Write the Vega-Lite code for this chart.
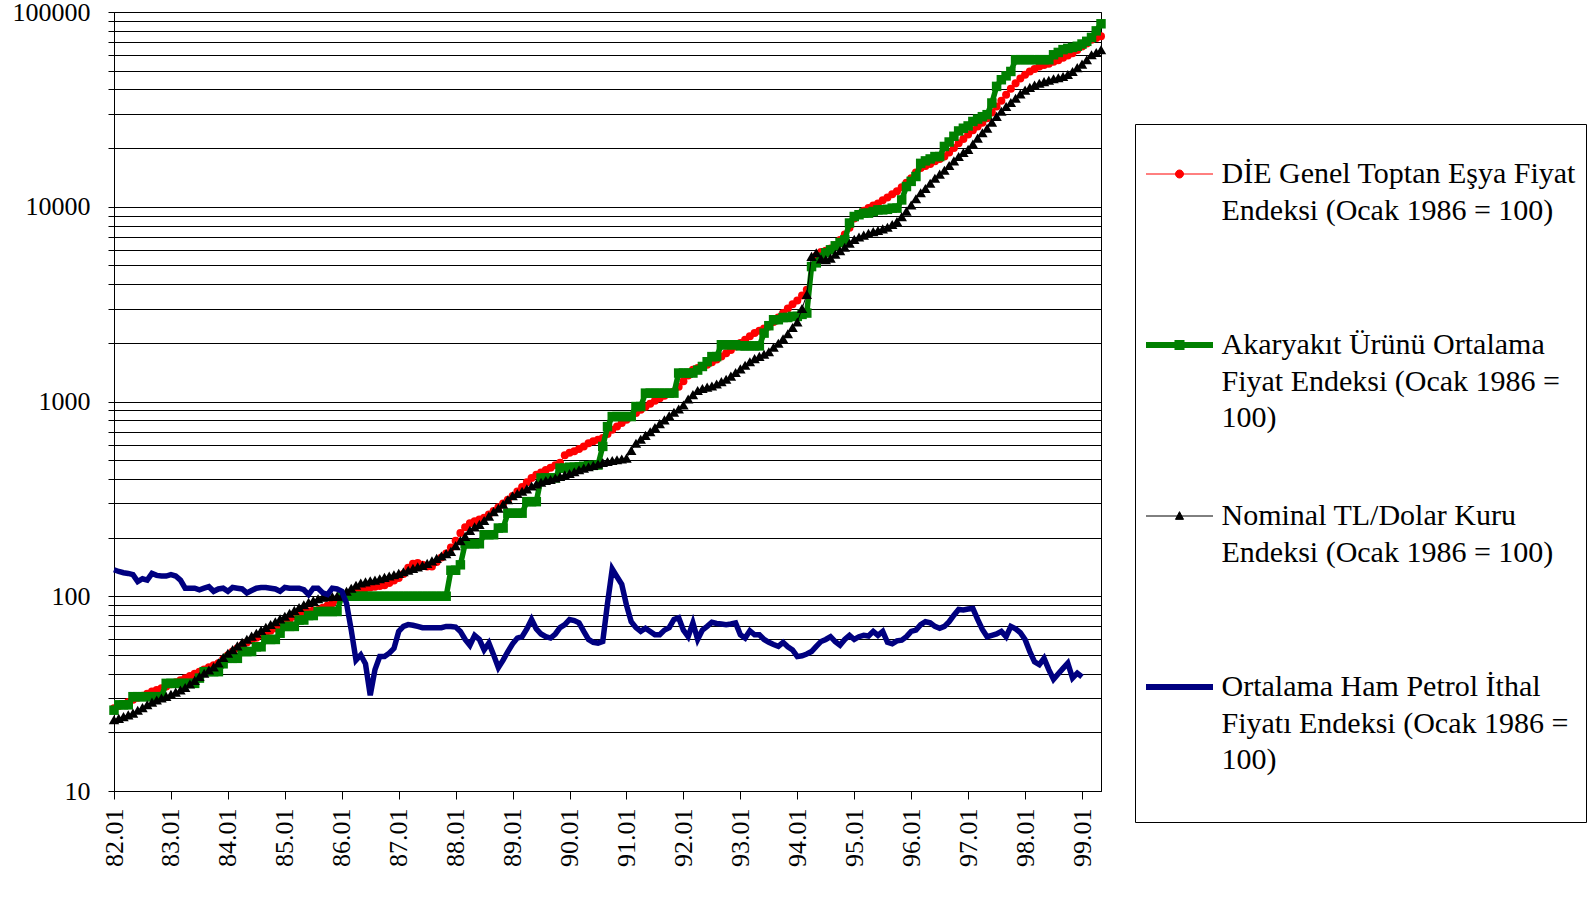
{
  "$schema": "https://vega.github.io/schema/vega-lite/v6.json",
  "width": 987,
  "height": 779,
  "autosize": {"type": "none"},
  "padding": {"left": 114, "top": 12, "right": 491, "bottom": 107},
  "background": "#ffffff",
  "config": {
    "font": "Liberation Serif",
    "view": {"stroke": "#000000", "strokeWidth": 1},
    "axis": {
      "labelFont": "Liberation Serif",
      "labelFontSize": 26,
      "labelColor": "#000000",
      "domainColor": "#000000",
      "tickColor": "#000000",
      "labelOverlap": false,
      "labelFlush": false,
      "title": null
    }
  },
  "data": {
    "values": [
      {"a": "82.01", "t": 26.6, "y": 26, "k": 23.2, "p": 136.8},
      {"a": "82.02", "t": 27.3, "y": 27.7, "k": 23.6, "p": 134},
      {"a": "82.03", "t": 28.0, "y": 27.7, "k": 24.1, "p": 132},
      {"a": "82.04", "t": 28.6, "y": 27.7, "k": 24.6, "p": 131},
      {"a": "82.05", "t": 29.4, "y": 30.5, "k": 25.1, "p": 129},
      {"a": "82.06", "t": 30.1, "y": 30.5, "k": 26.0, "p": 119},
      {"a": "82.07", "t": 30.8, "y": 30.5, "k": 26.8, "p": 123},
      {"a": "82.08", "t": 31.6, "y": 30.5, "k": 27.7, "p": 121},
      {"a": "82.09", "t": 32.4, "y": 30.5, "k": 28.6, "p": 131},
      {"a": "82.10", "t": 33.0, "y": 30.5, "k": 29.3, "p": 128},
      {"a": "82.11", "t": 33.7, "y": 30.5, "k": 30.0, "p": 127},
      {"a": "82.12", "t": 34.4, "y": 35.7, "k": 30.6, "p": 127},
      {"a": "83.01", "t": 35.3, "y": 35.7, "k": 31.4, "p": 129},
      {"a": "83.02", "t": 36.2, "y": 35.7, "k": 32.2, "p": 127},
      {"a": "83.03", "t": 37.0, "y": 35.7, "k": 33.0, "p": 121},
      {"a": "83.04", "t": 37.9, "y": 35.7, "k": 34.0, "p": 110},
      {"a": "83.05", "t": 38.9, "y": 35.7, "k": 35.4, "p": 110},
      {"a": "83.06", "t": 40.0, "y": 35.7, "k": 37.0, "p": 110},
      {"a": "83.07", "t": 41.0, "y": 38, "k": 38.7, "p": 108},
      {"a": "83.08", "t": 42.1, "y": 41, "k": 40.2, "p": 110},
      {"a": "83.09", "t": 43.2, "y": 41, "k": 41.8, "p": 112},
      {"a": "83.10", "t": 44.2, "y": 41, "k": 43.4, "p": 106},
      {"a": "83.11", "t": 45.3, "y": 41, "k": 45.5, "p": 109},
      {"a": "83.12", "t": 47.5, "y": 45, "k": 48.5, "p": 110},
      {"a": "84.01", "t": 49.8, "y": 48, "k": 51.0, "p": 106},
      {"a": "84.02", "t": 52.0, "y": 48, "k": 53.2, "p": 111},
      {"a": "84.03", "t": 54.0, "y": 48, "k": 55.6, "p": 110},
      {"a": "84.04", "t": 56.0, "y": 52, "k": 58.0, "p": 109},
      {"a": "84.05", "t": 57.9, "y": 52, "k": 60.2, "p": 104},
      {"a": "84.06", "t": 59.7, "y": 52, "k": 62.4, "p": 107},
      {"a": "84.07", "t": 61.3, "y": 55, "k": 64.6, "p": 110},
      {"a": "84.08", "t": 63.0, "y": 55, "k": 66.8, "p": 111},
      {"a": "84.09", "t": 64.6, "y": 60, "k": 69.2, "p": 111},
      {"a": "84.10", "t": 66.5, "y": 60, "k": 71.6, "p": 110},
      {"a": "84.11", "t": 68.5, "y": 60, "k": 74.0, "p": 109},
      {"a": "84.12", "t": 70.5, "y": 64.6, "k": 76.5, "p": 106},
      {"a": "85.01", "t": 72.7, "y": 70, "k": 79.0, "p": 111},
      {"a": "85.02", "t": 75.7, "y": 70, "k": 81.8, "p": 110},
      {"a": "85.03", "t": 78.7, "y": 70, "k": 84.6, "p": 110},
      {"a": "85.04", "t": 81.8, "y": 75.5, "k": 87.5, "p": 110},
      {"a": "85.05", "t": 82.8, "y": 75.5, "k": 90.5, "p": 108},
      {"a": "85.06", "t": 83.8, "y": 79.6, "k": 93.0, "p": 102},
      {"a": "85.07", "t": 84.5, "y": 79.6, "k": 95.0, "p": 110},
      {"a": "85.08", "t": 85.0, "y": 83.5, "k": 97.0, "p": 110},
      {"a": "85.09", "t": 87.2, "y": 83.5, "k": 98.8, "p": 104},
      {"a": "85.10", "t": 89.6, "y": 83.5, "k": 99.6, "p": 102},
      {"a": "85.11", "t": 92.0, "y": 83.5, "k": 99.8, "p": 110},
      {"a": "85.12", "t": 96.0, "y": 83.5, "k": 100, "p": 109},
      {"a": "86.01", "t": 100, "y": 100, "k": 100, "p": 106},
      {"a": "86.02", "t": 101.6, "y": 100, "k": 106, "p": 92},
      {"a": "86.03", "t": 103.6, "y": 100, "k": 110, "p": 67},
      {"a": "86.04", "t": 105.8, "y": 100, "k": 114, "p": 47},
      {"a": "86.05", "t": 108, "y": 100, "k": 117, "p": 50},
      {"a": "86.06", "t": 110, "y": 100, "k": 118.5, "p": 45},
      {"a": "86.07", "t": 111, "y": 100, "k": 120, "p": 31},
      {"a": "86.08", "t": 112, "y": 100, "k": 121, "p": 42},
      {"a": "86.09", "t": 113, "y": 100, "k": 123, "p": 49},
      {"a": "86.10", "t": 114, "y": 100, "k": 125, "p": 49},
      {"a": "86.11", "t": 117, "y": 100, "k": 127, "p": 51},
      {"a": "86.12", "t": 120.5, "y": 100, "k": 129, "p": 54},
      {"a": "87.01", "t": 124, "y": 100, "k": 131, "p": 66},
      {"a": "87.02", "t": 130, "y": 100, "k": 133.5, "p": 70},
      {"a": "87.03", "t": 140, "y": 100, "k": 136, "p": 71.5},
      {"a": "87.04", "t": 147, "y": 100, "k": 139, "p": 71},
      {"a": "87.05", "t": 148, "y": 100, "k": 141.5, "p": 70},
      {"a": "87.06", "t": 145, "y": 100, "k": 144, "p": 69},
      {"a": "87.07", "t": 142, "y": 100, "k": 147.5, "p": 69},
      {"a": "87.08", "t": 142, "y": 100, "k": 152, "p": 69},
      {"a": "87.09", "t": 150, "y": 100, "k": 156.5, "p": 69},
      {"a": "87.10", "t": 158, "y": 100, "k": 161, "p": 69},
      {"a": "87.11", "t": 166, "y": 100, "k": 165.5, "p": 70},
      {"a": "87.12", "t": 178, "y": 136, "k": 170, "p": 70},
      {"a": "88.01", "t": 193, "y": 136, "k": 182, "p": 69.5},
      {"a": "88.02", "t": 211, "y": 145, "k": 193, "p": 66},
      {"a": "88.03", "t": 226, "y": 186, "k": 203, "p": 60},
      {"a": "88.04", "t": 237, "y": 186, "k": 218, "p": 56},
      {"a": "88.05", "t": 243, "y": 186, "k": 227, "p": 63},
      {"a": "88.06", "t": 248, "y": 186, "k": 234, "p": 60},
      {"a": "88.07", "t": 253, "y": 207, "k": 245, "p": 53},
      {"a": "88.08", "t": 263, "y": 207, "k": 258, "p": 57.5},
      {"a": "88.09", "t": 274, "y": 207, "k": 272, "p": 50},
      {"a": "88.10", "t": 286, "y": 224, "k": 283, "p": 43},
      {"a": "88.11", "t": 299, "y": 224, "k": 297, "p": 47},
      {"a": "88.12", "t": 313, "y": 267, "k": 313, "p": 52},
      {"a": "89.01", "t": 327, "y": 267, "k": 328, "p": 57},
      {"a": "89.02", "t": 345, "y": 267, "k": 337, "p": 61},
      {"a": "89.03", "t": 364, "y": 267, "k": 346, "p": 62},
      {"a": "89.04", "t": 385, "y": 306, "k": 356, "p": 68},
      {"a": "89.05", "t": 405, "y": 306, "k": 368, "p": 76},
      {"a": "89.06", "t": 420, "y": 306, "k": 377, "p": 68},
      {"a": "89.07", "t": 432, "y": 405, "k": 385, "p": 64},
      {"a": "89.08", "t": 445, "y": 405, "k": 393, "p": 62},
      {"a": "89.09", "t": 457, "y": 405, "k": 398, "p": 61},
      {"a": "89.10", "t": 470, "y": 405, "k": 405, "p": 64},
      {"a": "89.11", "t": 485, "y": 455, "k": 412, "p": 69},
      {"a": "89.12", "t": 530, "y": 455, "k": 420, "p": 71.5},
      {"a": "90.01", "t": 545, "y": 460, "k": 427, "p": 76},
      {"a": "90.02", "t": 555, "y": 460, "k": 436, "p": 75},
      {"a": "90.03", "t": 570, "y": 462, "k": 446, "p": 73},
      {"a": "90.04", "t": 588, "y": 465, "k": 455, "p": 66},
      {"a": "90.05", "t": 611, "y": 468, "k": 462, "p": 60},
      {"a": "90.06", "t": 625, "y": 470, "k": 470, "p": 58},
      {"a": "90.07", "t": 636, "y": 472, "k": 478, "p": 57.5},
      {"a": "90.08", "t": 650, "y": 588, "k": 486, "p": 58.6},
      {"a": "90.09", "t": 680, "y": 743, "k": 492, "p": 92},
      {"a": "90.10", "t": 716, "y": 837, "k": 498, "p": 138},
      {"a": "90.11", "t": 745, "y": 837, "k": 502, "p": 126},
      {"a": "90.12", "t": 775, "y": 837, "k": 507, "p": 115},
      {"a": "91.01", "t": 805, "y": 837, "k": 512, "p": 90},
      {"a": "91.02", "t": 838, "y": 837, "k": 560, "p": 74},
      {"a": "91.03", "t": 872, "y": 942, "k": 610, "p": 69},
      {"a": "91.04", "t": 906, "y": 942, "k": 640, "p": 66},
      {"a": "91.05", "t": 940, "y": 1104, "k": 670, "p": 68.5},
      {"a": "91.06", "t": 975, "y": 1104, "k": 700, "p": 66},
      {"a": "91.07", "t": 1010, "y": 1104, "k": 735, "p": 63.4},
      {"a": "91.08", "t": 1040, "y": 1104, "k": 770, "p": 63.4},
      {"a": "91.09", "t": 1070, "y": 1104, "k": 805, "p": 67},
      {"a": "91.10", "t": 1100, "y": 1104, "k": 845, "p": 69},
      {"a": "91.11", "t": 1125, "y": 1104, "k": 880, "p": 76},
      {"a": "91.12", "t": 1190, "y": 1400, "k": 915, "p": 77.5},
      {"a": "92.01", "t": 1270, "y": 1400, "k": 960, "p": 67},
      {"a": "92.02", "t": 1360, "y": 1400, "k": 1030, "p": 62},
      {"a": "92.03", "t": 1455, "y": 1400, "k": 1085, "p": 73},
      {"a": "92.04", "t": 1485, "y": 1450, "k": 1140, "p": 60},
      {"a": "92.05", "t": 1515, "y": 1513, "k": 1165, "p": 67},
      {"a": "92.06", "t": 1542, "y": 1600, "k": 1185, "p": 70},
      {"a": "92.07", "t": 1592, "y": 1700, "k": 1200, "p": 73.5},
      {"a": "92.08", "t": 1645, "y": 1700, "k": 1230, "p": 72.5},
      {"a": "92.09", "t": 1702, "y": 1956, "k": 1265, "p": 72},
      {"a": "92.10", "t": 1770, "y": 1956, "k": 1300, "p": 71.5},
      {"a": "92.11", "t": 1840, "y": 1956, "k": 1350, "p": 72},
      {"a": "92.12", "t": 1915, "y": 1956, "k": 1410, "p": 73},
      {"a": "93.01", "t": 1995, "y": 1930, "k": 1470, "p": 63.4},
      {"a": "93.02", "t": 2075, "y": 1930, "k": 1535, "p": 61},
      {"a": "93.03", "t": 2160, "y": 1930, "k": 1600, "p": 66.5},
      {"a": "93.04", "t": 2245, "y": 1930, "k": 1660, "p": 63.4},
      {"a": "93.05", "t": 2305, "y": 1930, "k": 1705, "p": 63.4},
      {"a": "93.06", "t": 2370, "y": 2245, "k": 1750, "p": 60},
      {"a": "93.07", "t": 2430, "y": 2450, "k": 1800, "p": 58},
      {"a": "93.08", "t": 2560, "y": 2630, "k": 1900, "p": 56.5},
      {"a": "93.09", "t": 2700, "y": 2630, "k": 1990, "p": 55.3},
      {"a": "93.10", "t": 2845, "y": 2700, "k": 2100, "p": 58},
      {"a": "93.11", "t": 3000, "y": 2700, "k": 2230, "p": 55},
      {"a": "93.12", "t": 3160, "y": 2735, "k": 2400, "p": 53},
      {"a": "94.01", "t": 3300, "y": 2735, "k": 2560, "p": 49},
      {"a": "94.02", "t": 3500, "y": 2800, "k": 3000, "p": 49.5},
      {"a": "94.03", "t": 3750, "y": 2845, "k": 3550, "p": 50.5},
      {"a": "94.04", "t": 4900, "y": 4930, "k": 5560, "p": 52},
      {"a": "94.05", "t": 5600, "y": 5150, "k": 5800, "p": 55.3},
      {"a": "94.06", "t": 5850, "y": 5500, "k": 5400, "p": 58.6},
      {"a": "94.07", "t": 5950, "y": 5800, "k": 5350, "p": 60},
      {"a": "94.08", "t": 6100, "y": 6010, "k": 5450, "p": 62},
      {"a": "94.09", "t": 6350, "y": 6300, "k": 5700, "p": 58.5},
      {"a": "94.10", "t": 6750, "y": 6550, "k": 5950, "p": 56},
      {"a": "94.11", "t": 7200, "y": 6760, "k": 6200, "p": 60},
      {"a": "94.12", "t": 7800, "y": 8250, "k": 6500, "p": 63},
      {"a": "95.01", "t": 8700, "y": 8910, "k": 6800, "p": 60},
      {"a": "95.02", "t": 9200, "y": 9100, "k": 7000, "p": 62},
      {"a": "95.03", "t": 9550, "y": 9270, "k": 7150, "p": 63},
      {"a": "95.04", "t": 9850, "y": 9270, "k": 7300, "p": 62.5},
      {"a": "95.05", "t": 10150, "y": 9450, "k": 7450, "p": 66},
      {"a": "95.06", "t": 10400, "y": 9640, "k": 7550, "p": 63},
      {"a": "95.07", "t": 10800, "y": 9640, "k": 7700, "p": 66},
      {"a": "95.08", "t": 11150, "y": 9700, "k": 7850, "p": 58},
      {"a": "95.09", "t": 11600, "y": 9840, "k": 8100, "p": 57},
      {"a": "95.10", "t": 12000, "y": 9840, "k": 8400, "p": 59},
      {"a": "95.11", "t": 12600, "y": 10840, "k": 8900, "p": 59.5},
      {"a": "95.12", "t": 13300, "y": 12700, "k": 9500, "p": 62},
      {"a": "96.01", "t": 14000, "y": 13500, "k": 10200, "p": 66},
      {"a": "96.02", "t": 15000, "y": 14300, "k": 11000, "p": 67},
      {"a": "96.03", "t": 15800, "y": 16700, "k": 11800, "p": 71.5},
      {"a": "96.04", "t": 16200, "y": 17200, "k": 12400, "p": 74},
      {"a": "96.05", "t": 16600, "y": 17600, "k": 13200, "p": 73},
      {"a": "96.06", "t": 17100, "y": 18100, "k": 14000, "p": 70},
      {"a": "96.07", "t": 17600, "y": 18100, "k": 14700, "p": 68.5},
      {"a": "96.08", "t": 18100, "y": 20400, "k": 15400, "p": 70},
      {"a": "96.09", "t": 19000, "y": 21500, "k": 16300, "p": 74},
      {"a": "96.10", "t": 20000, "y": 23000, "k": 17200, "p": 80},
      {"a": "96.11", "t": 21200, "y": 24500, "k": 18100, "p": 85.5},
      {"a": "96.12", "t": 22300, "y": 25300, "k": 19000, "p": 85},
      {"a": "97.01", "t": 23500, "y": 26000, "k": 19700, "p": 86},
      {"a": "97.02", "t": 24700, "y": 27400, "k": 21000, "p": 86.5},
      {"a": "97.03", "t": 25800, "y": 28200, "k": 22500, "p": 76},
      {"a": "97.04", "t": 27000, "y": 29000, "k": 24000, "p": 67.5},
      {"a": "97.05", "t": 28500, "y": 29700, "k": 25300, "p": 62},
      {"a": "97.06", "t": 30500, "y": 34100, "k": 27200, "p": 63},
      {"a": "97.07", "t": 32700, "y": 41500, "k": 29100, "p": 64},
      {"a": "97.08", "t": 35000, "y": 44900, "k": 30900, "p": 66},
      {"a": "97.09", "t": 37600, "y": 47000, "k": 32700, "p": 62},
      {"a": "97.10", "t": 40300, "y": 49500, "k": 34300, "p": 70},
      {"a": "97.11", "t": 43100, "y": 56900, "k": 36100, "p": 68},
      {"a": "97.12", "t": 45500, "y": 56900, "k": 38000, "p": 65},
      {"a": "98.01", "t": 47600, "y": 56900, "k": 39700, "p": 60},
      {"a": "98.02", "t": 49500, "y": 56900, "k": 41000, "p": 52},
      {"a": "98.03", "t": 51000, "y": 56900, "k": 42200, "p": 46},
      {"a": "98.04", "t": 52500, "y": 56900, "k": 43100, "p": 44.5},
      {"a": "98.05", "t": 53400, "y": 56900, "k": 43900, "p": 48},
      {"a": "98.06", "t": 54300, "y": 56900, "k": 44600, "p": 42},
      {"a": "98.07", "t": 55500, "y": 60300, "k": 45400, "p": 37.5},
      {"a": "98.08", "t": 56600, "y": 62000, "k": 46000, "p": 40},
      {"a": "98.09", "t": 58200, "y": 64100, "k": 46600, "p": 42.6},
      {"a": "98.10", "t": 59800, "y": 65000, "k": 47800, "p": 45.3},
      {"a": "98.11", "t": 61400, "y": 65800, "k": 49500, "p": 38},
      {"a": "98.12", "t": 63800, "y": 66700, "k": 51800, "p": 40.3},
      {"a": "99.01", "t": 66500, "y": 68500, "k": 54000, "p": 38.5},
      {"a": "99.02", "t": 69000, "y": 70700, "k": 56900},
      {"a": "99.03", "t": 72000, "y": 74000, "k": 60300},
      {"a": "99.04", "t": 73500, "y": 80000, "k": 62000},
      {"a": "99.05", "t": 75000, "y": 87000, "k": 64000}
    ]
  },
  "transform": [
    {"fold": ["t", "y", "k", "p"], "as": ["s", "v"]},
    {"filter": "isValid(datum.v)"}
  ],
  "encoding": {
    "x": {
      "field": "a",
      "type": "ordinal",
      "scale": {"type": "point", "padding": 0},
      "axis": {
        "values": ["82.01", "83.01", "84.01", "85.01", "86.01", "87.01", "88.01", "89.01", "90.01", "91.01", "92.01", "93.01", "94.01", "95.01", "96.01", "97.01", "98.01", "99.01"],
        "labelAngle": -90,
        "tickSize": 8,
        "labelPadding": 9,
        "grid": false
      }
    },
    "y": {
      "field": "v",
      "type": "quantitative",
      "scale": {"type": "log", "domain": [10, 100000], "nice": false},
      "axis": {
        "values": [10, 20, 30, 40, 50, 60, 70, 80, 90, 100, 200, 300, 400, 500, 600, 700, 800, 900, 1000, 2000, 3000, 4000, 5000, 6000, 7000, 8000, 9000, 10000, 20000, 30000, 40000, 50000, 60000, 70000, 80000, 90000, 100000],
        "labelExpr": "indexof([10, 100, 1000, 10000, 100000], datum.value) >= 0 ? format(datum.value, 'd') : ''",
        "tickSize": 6,
        "labelPadding": 18,
        "grid": true,
        "gridColor": "#000000",
        "gridWidth": 1
      }
    },
    "color": {
      "field": "s",
      "type": "nominal",
      "scale": {"domain": ["t", "y", "k", "p"], "range": ["#ff0000", "#008000", "#000000", "#000080"]},
      "legend": {
        "orient": "none",
        "legendX": 1021,
        "legendY": 112,
        "direction": "vertical",
        "columns": 1,
        "title": " ",
        "titleFontSize": 15,
        "titlePadding": 10,
        "padding": 10,
        "strokeColor": "#000000",
        "fillColor": "#ffffff",
        "symbolSize": 4489,
        "symbolOffset": 19.5,
        "labelFont": "Liberation Serif",
        "labelFontSize": 30,
        "labelColor": "#000000",
        "labelLimit": 600,
        "labelOffset": 27,
        "labelBaseline": "top",
        "rowPadding": 67,
        "labelExpr": "datum.value === 't' ? ['DİE Genel Toptan Eşya Fiyat', 'Endeksi (Ocak 1986 = 100)', ''] : datum.value === 'y' ? ['Akaryakıt Ürünü Ortalama', 'Fiyat Endeksi (Ocak 1986 =', '100)'] : datum.value === 'k' ? ['Nominal TL/Dolar Kuru', 'Endeksi (Ocak 1986 = 100)', ''] : ['Ortalama Ham Petrol İthal', 'Fiyatı Endeksi (Ocak 1986 =', '100)', '']",
        "encode": {
          "symbols": {
            "update": {
              "shape": {"signal": "datum.value === 't' ? 'M-1,0H1M-0.12,0A0.12,0.12,0,1,1,0.12,0A0.12,0.12,0,1,1,-0.12,0Z' : datum.value === 'y' ? 'M-1,0H1M-0.06,-0.06H0.06V0.06H-0.06Z' : datum.value === 'k' ? 'M-1,0H1M-0.12,0.1L0,-0.13L0.12,0.1Z' : 'M-1,0H1'"},
              "strokeWidth": {"signal": "datum.value === 'y' || datum.value === 'p' ? 6 : 1"},
              "fill": {"scale": "color", "field": "value"},
              "stroke": {"scale": "color", "field": "value"},
              "size": {"value": 4489},
              "opacity": {"value": 1}
            }
          },
          "labels": {
            "update": {
              "lineHeight": {"value": 36.6},
              "dy": {"value": -15}
            }
          }
        }
      }
    }
  },
  "layer": [
    {
      "transform": [{"filter": "datum.s === 't'"}],
      "mark": {"type": "line", "strokeWidth": 1, "point": {"filled": true, "shape": "circle", "size": 64}}
    },
    {
      "transform": [{"filter": "datum.s === 'y'"}],
      "mark": {"type": "line", "strokeWidth": 5.5, "point": {"filled": true, "shape": "square", "size": 90}}
    },
    {
      "transform": [{"filter": "datum.s === 'k'"}],
      "mark": {"type": "line", "strokeWidth": 1, "point": {"filled": true, "shape": "triangle-up", "size": 110}}
    },
    {
      "transform": [{"filter": "datum.s === 'p'"}],
      "mark": {"type": "line", "strokeWidth": 5.5}
    }
  ]
}
